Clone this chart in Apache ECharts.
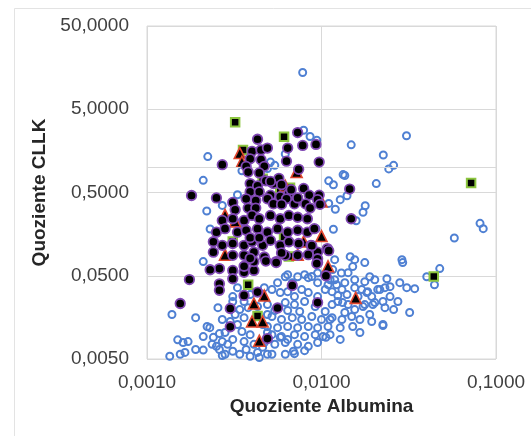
<!DOCTYPE html>
<html>
<head>
<meta charset="utf-8">
<script src="https://cdn.jsdelivr.net/npm/echarts@6/dist/echarts.min.js"></script>
<style>html,body{margin:0;padding:0;background:#fff}#c{width:531px;height:436px}</style>
</head>
<body>
<div id="c"></div>
<script>
// Tick values and axis titles
const xTicks = [0.001, 0.01, 0.1];
const yTicks = [0.005, 0.05, 0.5, 5, 50];
const xTitle = 'Quoziente Albumina';
const yTitle = 'Quoziente CLLK';
const refLineY = 1;

// Hollow blue circles [Quoziente Albumina, Quoziente CLLK]
const blueCircles = [
[0.0078,13.8],[0.0079,2.8],[0.0086,2.35],[0.0148,1.87],[0.0307,2.4],[0.0226,1.41],[0.0259,1.06],[0.0243,0.96],
[0.0136,0.80],[0.0206,0.64],[0.011,0.69],[0.0117,0.62],[0.014,0.457],[0.0178,0.347],[0.0173,0.29],[0.012,0.315],
[0.011,0.37],[0.0117,0.181],[0.0158,0.229],[0.0577,0.142],[0.081,0.213],[0.0845,0.184],[0.00223,1.35],[0.0021,0.70],
[0.0022,0.30],[0.0023,0.182],[0.0027,0.35],[0.0021,0.074],[0.0051,1.16],[0.0054,1.06],[0.0049,0.97],[0.0062,1.45],
[0.0093,0.184],[0.0035,0.91],[0.0033,0.47],[0.0094,2.12],[0.0133,0.82],[0.0128,0.41],[0.0034,0.215],
[0.0095,0.054],[0.0088,0.049],[0.008,0.0515],[0.0064,0.0515],[0.013,0.054],[0.0119,0.078],[0.0146,0.0848],
[0.0155,0.078],[0.0177,0.072],[0.0151,0.0644],[0.0289,0.078],[0.0292,0.072],[0.0476,0.061],[0.0401,0.0487],
[0.0444,0.039],[0.0142,0.0545],[0.0189,0.0487],[0.0216,0.0341],[0.0231,0.036],[0.0247,0.037],[0.0237,0.046],
[0.0281,0.0413],[0.0308,0.036],[0.0342,0.035],[0.0274,0.0245],[0.032,0.0181],[0.0231,0.0207],[0.0225,0.0126],
[0.0151,0.0123],[0.0116,0.0593],[0.0112,0.0448],[0.0122,0.0391],[0.0197,0.0225],[0.0173,0.0213],[0.0162,0.0281],
[0.0182,0.0314],[0.014,0.0297],[0.0132,0.0238],
[0.0062,0.0487],[0.0073,0.0487],[0.0084,0.0474],[0.0119,0.0448],[0.0136,0.0413],[0.0155,0.0448],[0.0177,0.0425],[0.0202,0.0448],
[0.0052,0.0341],[0.0058,0.0314],[0.0064,0.0322],[0.0077,0.0341],[0.0084,0.0314],[0.0105,0.0341],[0.0115,0.0322],[0.0131,0.0341],
[0.017,0.0341],[0.0184,0.0322],[0.021,0.0341],
[0.0049,0.0225],[0.0062,0.0238],[0.007,0.0225],[0.008,0.0245],[0.0092,0.0213],[0.0115,0.0225],[0.0124,0.0245],[0.0142,0.0225],
[0.0177,0.0225],[0.0202,0.0238],[0.0225,0.0245],
[0.0052,0.0162],[0.0059,0.0149],[0.0068,0.0157],[0.0077,0.0149],[0.0088,0.0162],[0.01,0.0149],[0.0115,0.0157],[0.0131,0.0149],[0.0149,0.0162],
[0.0049,0.0123],[0.0056,0.0119],[0.0064,0.0123],[0.0073,0.0119],[0.0084,0.0123],[0.0095,0.0119],[0.0109,0.0123],[0.0225,0.013],
[0.0052,0.0098],[0.0059,0.0093],[0.007,0.0098],[0.008,0.0093],[0.0092,0.0098],[0.0102,0.0093],
[0.0054,0.0075],[0.0062,0.0079],[0.0073,0.0075],[0.0084,0.0071],[0.0095,0.0079],
[0.0052,0.0057],[0.0062,0.0057],[0.007,0.0058],
[0.0056,0.0413],[0.0068,0.0413],[0.0095,0.0413],[0.0109,0.0391],[0.007,0.0281],[0.0095,0.0281],[0.0054,0.0191],[0.0064,0.0191],
[0.0075,0.0186],[0.0105,0.0186],[0.0155,0.0196],[0.0064,0.0086],[0.008,0.0063],[0.0112,0.0098],[0.0128,0.0119],[0.0166,0.0149],
[0.0189,0.0171],[0.0106,0.0091],[0.0069,0.0062],
[0.00139,0.0171],[0.00135,0.0054],[0.00161,0.0079],[0.00172,0.0081],[0.00155,0.0057],[0.00165,0.006],[0.00221,0.0123],[0.00229,0.0119],
[0.0021,0.0093],[0.0024,0.0091],[0.00255,0.0207],[0.00236,0.0075],[0.0025,0.0071],[0.0027,0.0081],[0.0026,0.0065],[0.0029,0.0075],
[0.0031,0.0086],[0.0028,0.0057],[0.0031,0.0281],[0.0031,0.0245],[0.003,0.0141],[0.0032,0.0171],[0.0034,0.0196],[0.0033,0.013],
[0.0036,0.0157],[0.0035,0.0107],[0.0036,0.0081],[0.0039,0.0098],[0.0037,0.0065],[0.0041,0.0075],[0.0043,0.006],[0.0046,0.0069],
[0.0039,0.0054],[0.0044,0.0052],[0.0049,0.0057],[0.0047,0.0079],[0.0034,0.0057],[0.0033,0.036],[0.0036,0.0297],[0.0038,0.0207],
[0.0043,0.0213],[0.0036,0.0245],[0.0039,0.0297],[0.0049,0.0104],[0.0046,0.013],[0.0049,0.0171],
[0.0015,0.0085],[0.0021,0.0064],[0.0026,0.0101],[0.0027,0.0055],[0.0047,0.036],
[0.0124,0.0289],[0.0155,0.036],[0.0194,0.0281],[0.0247,0.0281],[0.0259,0.0196],[0.0194,0.0141],[0.0136,0.0181],[0.0112,0.0149],
[0.0166,0.0104],[0.0128,0.0086],[0.0058,0.0091],[0.0019,0.0157],[0.0027,0.0149],[0.0028,0.0104],[0.0019,0.0065],[0.0031,0.0062]
];

// Black circles with purple border
const purpleCircles = [
[0.0073,2.62],[0.0078,1.84],[0.0093,1.89],[0.0097,1.16],[0.0064,1.71],[0.0063,1.19],[0.0074,0.95],[0.0043,2.18],
[0.0040,1.56],[0.0045,1.62],[0.0049,1.71],[0.0039,1.27],[0.0045,1.24],[0.0027,1.08],[0.0037,1.03],[0.0047,1.03],
[0.0038,0.88],[0.0044,0.86],[0.0018,0.46],[0.0039,0.64],[0.0043,0.60],[0.0048,0.69],[0.0053,0.64],[0.0057,0.74],
[0.0051,0.68],[0.0039,0.51],[0.0044,0.51],[0.0051,0.465],[0.0058,0.445],[0.0065,0.485],[0.0079,0.56],[0.0085,0.465],
[0.0097,0.465],[0.0067,0.54],[0.0031,0.38],[0.0037,0.42],[0.0042,0.40],[0.0049,0.42],[0.0053,0.365],[0.0063,0.42],
[0.0070,0.365],[0.0081,0.365],[0.0095,0.41],[0.0059,0.36],[0.0086,0.325],[0.0032,0.31],[0.0038,0.325],[0.0042,0.325],
[0.0027,0.231],[0.0031,0.242],[0.0036,0.231],[0.0040,0.265],[0.0044,0.242],[0.0051,0.265],[0.0058,0.242],[0.0065,0.265],
[0.0073,0.252],[0.0083,0.242],[0.0025,0.167],[0.0028,0.184],[0.0033,0.167],[0.0037,0.176],[0.0043,0.184],[0.0049,0.167],
[0.0056,0.184],[0.0064,0.167],[0.0073,0.176],[0.0083,0.167],[0.0091,0.184],[0.0024,0.128],[0.0027,0.116],[0.0031,0.122],
[0.0036,0.116],[0.0040,0.128],[0.0046,0.116],[0.0051,0.133],[0.0058,0.116],[0.0065,0.128],[0.0074,0.122],[0.0087,0.116],
[0.0095,0.096],[0.0108,0.106],[0.0024,0.096],[0.0031,0.088],[0.0036,0.088],[0.0041,0.096],[0.0047,0.084],[0.0055,0.074],
[0.0062,0.088],[0.0073,0.088],[0.0059,0.094],[0.0026,0.061],[0.0031,0.058],[0.0036,0.055],[0.0041,0.058],[0.0031,0.046],
[0.0041,0.074],[0.0039,0.081],[0.0048,0.075],[0.0036,0.065],[0.0023,0.059],[0.0055,0.072],[0.0095,0.072],[0.0106,0.050],
[0.0095,0.080],[0.0145,0.55],[0.0148,0.242],[0.00175,0.045],[0.00155,0.0232],[0.0026,0.040],[0.0026,0.0335],[0.003,0.0202],
[0.003,0.0122],[0.0036,0.029],[0.0043,0.0318],[0.0049,0.0088],[0.0056,0.0205],[0.0068,0.0382],[0.0095,0.0238],[0.0098,0.36],
[0.0110,0.100],[0.0088,0.115],[0.0094,0.070],[0.0059,0.62],[0.0073,0.43],[0.0025,0.43],[0.0039,0.143],[0.0044,0.143],
[0.0084,0.0895]
];

// Black triangles with red border
const redTriangles = [
[0.0034,1.49],[0.0035,1.17],[0.0072,0.88],[0.0062,0.60],[0.0028,0.27],[0.0032,0.225],[0.0028,0.0895],[0.010,0.15],
[0.0100,0.39],[0.0109,0.065],[0.0073,0.0895],[0.0079,0.129],[0.0047,0.0289],[0.0041,0.0232],[0.0040,0.0141],[0.0046,0.0141],
[0.0044,0.0083],[0.0157,0.0271]
];

// Black squares with green border
const greenSquares = [
[0.0032,3.5],[0.0061,2.33],[0.00355,1.62],[0.0046,0.73],[0.0058,0.51],[0.0073,0.40],[0.0031,0.129],[0.0061,0.147],
[0.0065,0.085],[0.0038,0.039],[0.0043,0.0164],[0.044,0.049],[0.072,0.65],[0.0066,0.57]
];

const fmt = v => Number(v).toFixed(4).replace('.', ',');
const font = "'Liberation Sans', Arial, sans-serif";

const chart = echarts.init(document.getElementById('c'), null, {renderer: 'canvas'});
chart.setOption({
  animation: false,
  backgroundColor: '#fff',
  graphic: [{
    type: 'rect', silent: true, z: -10,
    shape: {x: 14.5, y: 8.5, width: 700, height: 600},
    style: {fill: 'none', stroke: '#e3e3e3', lineWidth: 1}
  }],
  grid: {left: 147, right: 35, top: 26, bottom: 77, show: true, borderColor: '#d9d9d9', borderWidth: 1, containLabel: false},
  xAxis: {
    type: 'log', logBase: 10, min: xTicks[0], max: xTicks[xTicks.length - 1],
    name: xTitle, nameLocation: 'middle', nameGap: 38,
    nameTextStyle: {fontFamily: font, fontSize: 19, fontWeight: 'bold', color: '#262626'},
    axisLine: {show: false}, axisTick: {show: false, customValues: xTicks},
    axisLabel: {customValues: xTicks, formatter: fmt, fontFamily: font, fontSize: 19, color: '#404040', margin: 14},
    splitLine: {show: true, lineStyle: {color: '#d9d9d9', width: 1}},
    minorSplitLine: {show: false}
  },
  yAxis: {
    type: 'log', logBase: 10, min: yTicks[0], max: yTicks[yTicks.length - 1],
    name: yTitle, nameLocation: 'middle', nameGap: 86, nameRotate: 90,
    nameTextStyle: {fontFamily: font, fontSize: 19, fontWeight: 'bold', color: '#262626'},
    axisLine: {show: false}, axisTick: {show: false, customValues: yTicks},
    axisLabel: {customValues: yTicks, formatter: fmt, fontFamily: font, fontSize: 19, color: '#404040', margin: 18},
    splitLine: {show: true, lineStyle: {color: '#d9d9d9', width: 1}}
  },
  series: [
    {
      type: 'scatter', name: 'blue', data: blueCircles, symbol: 'circle', symbolSize: 7, z: 2,
      itemStyle: {color: 'rgba(255,255,255,0)', borderColor: '#4f80d3', borderWidth: 2, opacity: 1},
      markLine: {silent: true, symbol: 'none', label: {show: false},
        lineStyle: {color: '#d9d9d9', width: 1, type: 'solid'}, data: [{yAxis: refLineY}]}
    },
    {
      type: 'scatter', name: 'squares', data: greenSquares, symbol: 'rect', symbolSize: 8.5, z: 3,
      itemStyle: {color: '#000', borderColor: '#8cc63f', borderWidth: 2, opacity: 1}
    },
    {
      type: 'scatter', name: 'triangles', data: redTriangles, symbol: 'triangle', symbolSize: 11, z: 4,
      itemStyle: {color: '#000', borderColor: '#e0462e', borderWidth: 1.6, opacity: 1}
    },
    {
      type: 'scatter', name: 'purple', data: purpleCircles, symbol: 'circle', symbolSize: 9.5, z: 5,
      itemStyle: {color: '#000', borderColor: '#8048b4', borderWidth: 1.8, opacity: 1}
    }
  ]
});
</script>
</body>
</html>
